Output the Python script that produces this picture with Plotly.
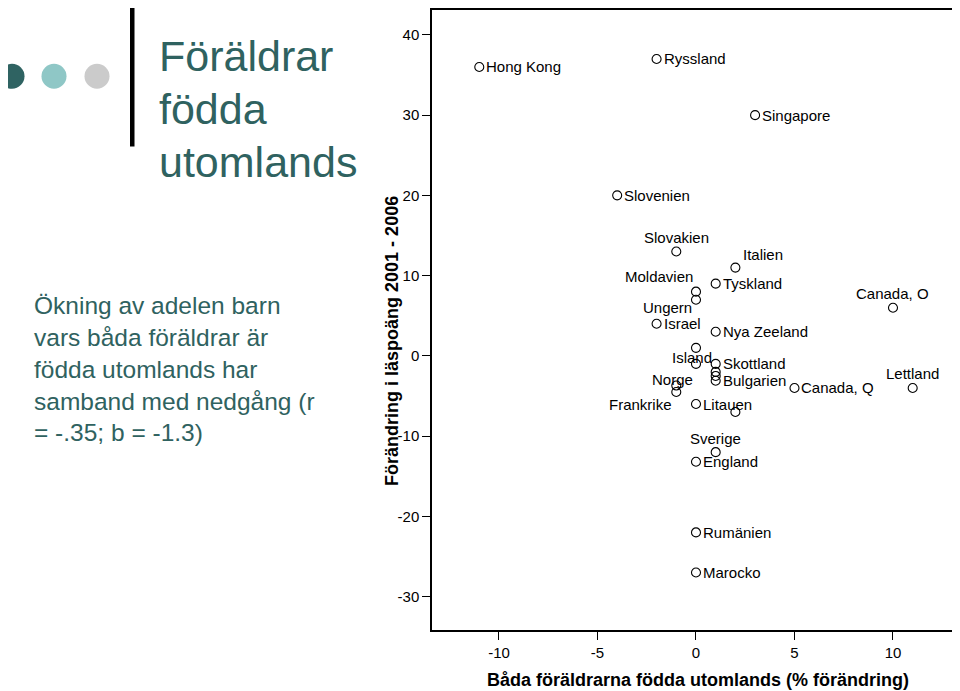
import plotly.graph_objects as go

# Data
countries = ["Hong Kong", "Ryssland", "Singapore", "Slovenien", "Slovakien", "Italien",
             "Tyskland", "Moldavien", "Ungern", "Israel", "Nya Zeeland", "Canada, O",
             "", "Island", "Skottland", "", "", "Bulgarien", "Norge", "Frankrike",
             "Litauen", "", "Canada, Q", "Lettland", "Sverige", "England",
             "Rumänien", "Marocko"]
both_parents_change = [-11, -2, 3, -4, -1, 2,
                       1, 0, 0, -2, 1, 10,
                       0, 0, 1, 1, 1, 1, -1, -1,
                       0, 2, 5, 11, 1, 0,
                       0, 0]
reading_change = [36, 37, 30, 20, 13, 11,
                  9, 8, 7, 4, 3, 6,
                  1, -1, -1, -2, -2.5, -3.1, -3.7, -4.5,
                  -6, -7, -4, -4, -12, -13.2,
                  -22, -27]
x_ticks = [-10, -5, 0, 5, 10]
y_ticks = [-30, -20, -10, 0, 10, 20, 30, 40]

slide_title = ["Föräldrar", "födda", "utomlands"]
slide_body = ["Ökning av adelen barn", "vars båda föräldrar är", "födda utomlands har",
              "samband med nedgång (r", "= -.35; b = -1.3)"]

# label placement (default: right of the point)
PLACE = {"Slovakien": "t", "Italien": "tr", "Moldavien": "tl", "Ungern": "l",
         "Canada, O": "t", "Island": "tn", "Norge": "tn", "Frankrike": "bl",
         "Lettland": "t", "Sverige": "t"}
STYLE = {
    "r": dict(xanchor="left", xshift=5, yshift=0),
    "t": dict(xanchor="center", xshift=0, yshift=14),
    "tn": dict(xanchor="center", xshift=-4, yshift=6),
    "tr": dict(xanchor="left", xshift=6, yshift=13),
    "tl": dict(xanchor="right", xshift=-1, yshift=15),
    "l": dict(xanchor="right", xshift=-2, yshift=-8),
    "bl": dict(xanchor="right", xshift=-2, yshift=-13),
}

# the page puts the figure 8px in from the window corner, so size it to fit
OFF = 8
W, H = 960 - OFF, 691 - OFF
L, R, T, B = 432 - OFF, 958 - OFF, 0, 630 - OFF   # plot area in figure pixels
TEAL = "#2f6260"
FONT = "Liberation Sans, Arial, sans-serif"


def px(x):
    # window pixel -> paper x
    return (x - OFF - L) / (R - L)


def py(y):
    return (B - (y - OFF)) / (B - T)


fig = go.Figure()
fig.add_trace(go.Scatter(
    x=both_parents_change, y=reading_change,
    mode="markers",
    marker=dict(symbol="circle-open", size=9, color="black", line=dict(width=1.1)),
    hoverinfo="skip",
    showlegend=False,
))

annotations = []
for name, xv, yv in zip(countries, both_parents_change, reading_change):
    if not name:
        continue
    st = STYLE[PLACE.get(name, "r")]
    annotations.append(dict(
        x=xv, y=yv, xref="x", yref="y", text=name, showarrow=False,
        yanchor="middle", font=dict(family=FONT, size=15, color="black"), **st))

# axis titles
annotations.append(dict(
    x=px(698), y=py(680), xref="paper", yref="paper",
    text="<b>Båda föräldrarna födda utomlands (% förändring)</b>", showarrow=False,
    xanchor="center", yanchor="middle", font=dict(family=FONT, size=18, color="black")))
annotations.append(dict(
    x=px(392), y=py(340), xref="paper", yref="paper", textangle=-90,
    text="<b>Förändring i läspoäng 2001 - 2006</b>", showarrow=False,
    xanchor="center", yanchor="middle", font=dict(family=FONT, size=18, color="black")))

# slide title and body text
for i, line in enumerate(slide_title):
    annotations.append(dict(
        x=px(157), y=py(54 + 53 * i), xref="paper", yref="paper", text=line,
        showarrow=False, xanchor="left", yanchor="middle",
        font=dict(family=FONT, size=43, color=TEAL)))
annotations.append(dict(
    x=px(32), y=py(368), xref="paper", yref="paper", text="<br>".join(slide_body),
    showarrow=False, xanchor="left", yanchor="middle", align="left",
    font=dict(family=FONT, size=24.5, color=TEAL)))

shapes = []
for cx, col in [(12, "#2f6362"), (54, "#8fc7c6"), (97, "#cbcbcb")]:
    shapes.append(dict(type="circle", xref="paper", yref="paper",
                       x0=px(cx - 12.5), x1=px(cx + 12.5), y0=py(62), y1=py(87),
                       fillcolor=col, line=dict(width=0)))
shapes.append(dict(type="rect", xref="paper", yref="paper",
                   x0=px(130), x1=px(134.5), y0=py(145), y1=py(5),
                   fillcolor="black", line=dict(width=0)))

fig.update_layout(
    width=W, height=H,
    margin=dict(l=L, r=W - R, t=T, b=H - B),
    paper_bgcolor="white", plot_bgcolor="white",
    annotations=annotations, shapes=shapes,
    font=dict(family=FONT, color="black"),
)
# plain hyphen for negatives, as in the original
fig.update_xaxes(range=[-13.4, 13.3], tickvals=x_ticks, ticktext=[str(v) for v in x_ticks],
                 ticks="outside", ticklen=8,
                 tickcolor="black", showline=True, linecolor="black", linewidth=1.5,
                 mirror=True, showgrid=False, zeroline=False,
                 tickfont=dict(family=FONT, size=15, color="black"))
fig.update_yaxes(range=[-34.16, 43.1], tickvals=y_ticks, ticktext=[str(v) for v in y_ticks],
                 ticks="outside", ticklen=8,
                 tickcolor="black", showline=True, linecolor="black", linewidth=1.5,
                 mirror=True, showgrid=False, zeroline=False,
                 tickfont=dict(family=FONT, size=15, color="black"))

fig.write_html("out.html")
